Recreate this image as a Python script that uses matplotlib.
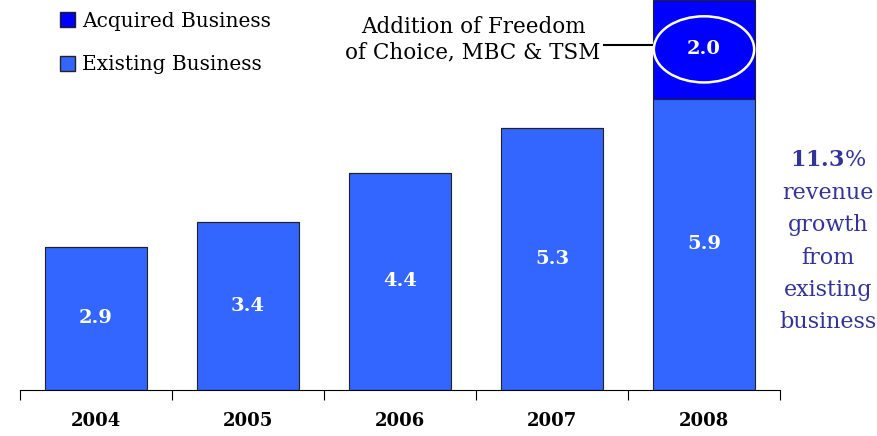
import matplotlib.pyplot as plt
from matplotlib.patches import Ellipse, Patch

years = ["2004", "2005", "2006", "2007", "2008"]
existing = [2.9, 3.4, 4.4, 5.3, 5.9]
acquired = [0, 0, 0, 0, 2.0]
growth_words = ["revenue", "growth", "from", "existing", "business"]

existing_color = "#3366FF"
acquired_color = "#0000FF"
note_color = "#333399"

plt.rcParams["font.family"] = ["DejaVu Serif"]

fig = plt.figure(figsize=(8.77, 4.36), dpi=100)
ax = fig.add_axes([20 / 877, 46 / 436, 760 / 877, 390 / 436])

x = range(len(years))
ax.bar(x, existing, width=0.67, color=existing_color, edgecolor="#222222", linewidth=0.8)
ax.bar(x, acquired, bottom=existing, width=0.67, color=acquired_color,
       edgecolor="#222222", linewidth=0.8)

for i, v in enumerate(existing):
    ax.text(i, v / 2, f"{v:.1f}", ha="center", va="center", color="white",
            fontsize=14, fontweight="bold")
for i, v in enumerate(acquired):
    if v:
        cy = existing[i] + v / 2
        ax.add_patch(Ellipse((i, cy), 0.66, 1.34, facecolor="none",
                             edgecolor="white", linewidth=1.8, zorder=3))
        ax.text(i, cy, f"{v:.1f}", ha="center", va="center", color="white",
                fontsize=14, fontweight="bold", zorder=4)
        # callout line to the acquisition note
        ax.plot([i - 0.66, i - 0.33], [cy + 0.09, cy + 0.09], color="black", lw=1.5,
                clip_on=False)
        ax.text(i - 1.52, cy + 0.2, "Addition of Freedom\nof Choice, MBC & TSM",
                ha="center", va="center", fontsize=15.5, linespacing=1.2)

ax.set_xlim(-0.5, 4.5)
ax.set_ylim(0, 7.9)
ax.set_xticks([i - 0.5 for i in range(len(years) + 1)])
ax.set_xticklabels([])
ax.set_xticks(list(x), minor=True)
ax.set_xticklabels(years, minor=True, fontsize=13, fontweight="bold")
ax.tick_params(axis="x", which="major", length=7, width=0.8, direction="out")
ax.tick_params(axis="x", which="minor", length=0, pad=16)
ax.set_yticks([])
for side in ["top", "right", "left"]:
    ax.spines[side].set_visible(False)
ax.spines["bottom"].set_linewidth(0.8)

handles = [Patch(facecolor=acquired_color, edgecolor="#222222", label="Acquired Business"),
           Patch(facecolor=existing_color, edgecolor="#222222", label="Existing Business")]
fig.legend(handles=handles, loc="upper left", bbox_to_anchor=(42 / 877, 1.015),
           frameon=False, fontsize=14.5, handlelength=0.75, handleheight=0.75,
           handletextpad=0.35, labelspacing=1.22)

fig.text(828 / 877, 1 - 160 / 436, r"$\mathbf{11.3}$%", ha="center", va="center",
         color=note_color, fontsize=16, math_fontfamily="dejavuserif")
for k, word in enumerate(growth_words):
    fig.text(828 / 877, 1 - (193 + 32.3 * k) / 436, word, ha="center", va="center",
             color=note_color, fontsize=16)

fig.savefig("out.png", dpi=100)
